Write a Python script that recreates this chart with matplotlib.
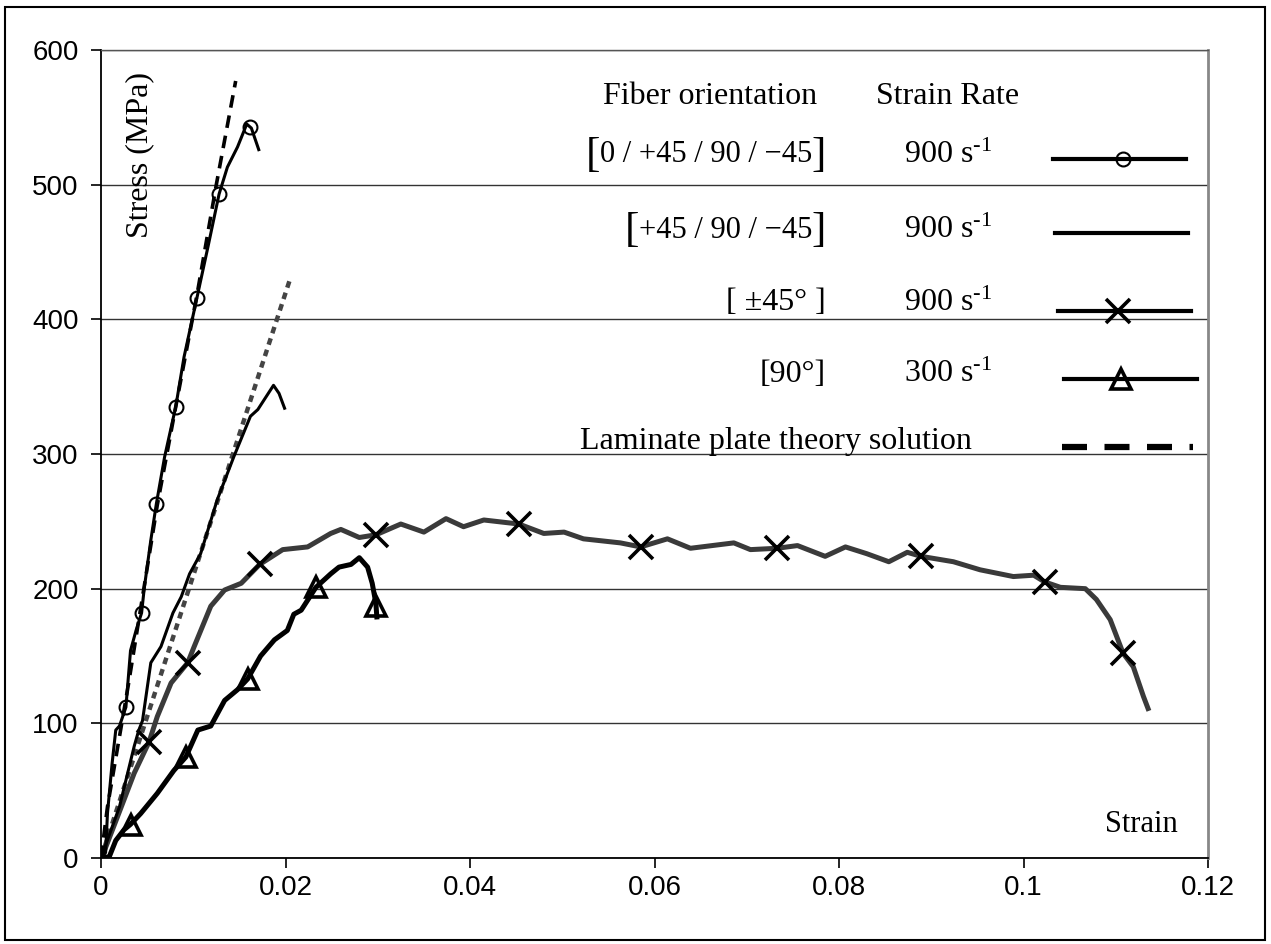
import matplotlib
matplotlib.use('Agg')
import matplotlib.pyplot as plt
import matplotlib.patches as patches
from matplotlib.lines import Line2D

plt.rcParams['mathtext.fontset'] = 'custom'
plt.rcParams['mathtext.rm'] = 'Liberation Serif'
plt.rcParams['mathtext.it'] = 'Liberation Serif:italic'
plt.rcParams['mathtext.bf'] = 'Liberation Serif:bold'

# [0/+45/90/-45] 900 1/s  (black, circles)
x1 = [0, 0.0005, 0.0007, 0.0012, 0.0016, 0.0020, 0.0027, 0.0032, 0.0038, 0.0044,
      0.0047, 0.0054, 0.0060, 0.0069, 0.0081, 0.0090, 0.0104, 0.0116, 0.0128,
      0.0137, 0.0148, 0.0158, 0.0163, 0.0171]
y1 = [0, 4, 33, 70, 95, 98, 112, 154, 169, 182,
      201, 236, 263, 298, 335, 372, 416, 454, 493,
      513, 528, 545, 542, 526]
x1m = [0.0027, 0.0044, 0.0060, 0.0081, 0.0104, 0.0128, 0.0162]
y1m = [112, 182, 263, 335, 416, 493, 543]

# [+45/90/-45] 900 1/s  (black, no marker)
x2 = [0, 0.0020, 0.0036, 0.0041, 0.0045, 0.0054, 0.0065, 0.0078, 0.0087, 0.0096,
      0.0108, 0.0126, 0.0144, 0.0162, 0.0170, 0.0187, 0.0193, 0.0199]
y2 = [0, 38, 83, 95, 102, 145, 157, 182, 194, 211,
      226, 266, 298, 328, 333, 351, 345, 334]

# [+-45] 900 1/s  (gray, crosses)
x3 = [0, 0.0004, 0.0022, 0.0036, 0.0052, 0.0061, 0.0076, 0.0094, 0.0101, 0.0119,
      0.0134, 0.0152, 0.0172, 0.0197, 0.0224, 0.0249, 0.0260, 0.0280, 0.0298,
      0.0325, 0.0350, 0.0374, 0.0393, 0.0415, 0.0453, 0.0480, 0.0502, 0.0523,
      0.0563, 0.0585, 0.0614, 0.0639, 0.0686, 0.0704, 0.0733, 0.0755, 0.0785,
      0.0807, 0.0830, 0.0854, 0.0874, 0.0889, 0.0924, 0.0953, 0.0989, 0.1011,
      0.1023, 0.1040, 0.1067, 0.1079, 0.1094, 0.1108, 0.1119, 0.1130, 0.1135]
y3 = [0, 6, 38, 63, 86, 105, 130, 145, 157, 187,
      199, 204, 218, 229, 231, 241, 244, 238, 240,
      248, 242, 252, 246, 251, 248, 241, 242, 237,
      234, 231, 237, 230, 234, 229, 230, 232, 224,
      231, 226, 220, 227, 224, 220, 214, 209, 210,
      205, 201, 200, 192, 177, 152, 142, 120, 111]
x3m = [0.0052, 0.0094, 0.0172, 0.0298, 0.0453, 0.0585, 0.0733, 0.0889, 0.1023, 0.1108]
y3m = [86, 145, 218, 240, 248, 231, 230, 224, 205, 152]

# [90] 300 1/s  (black, triangles)
x4 = [0, 0.0009, 0.0016, 0.0025, 0.0032, 0.0043, 0.0061, 0.0079, 0.0092, 0.0105,
      0.0119, 0.0134, 0.0148, 0.0159, 0.0173, 0.0188, 0.0202, 0.0209, 0.0217,
      0.0233, 0.0249, 0.0258, 0.0271, 0.0280, 0.0289, 0.0294, 0.0298, 0.0299]
y4 = [0, 1, 13, 21, 25, 33, 48, 65, 75, 95,
      98, 117, 125, 133, 150, 162, 169, 181, 184,
      201, 211, 216, 218, 223, 216, 204, 189, 179]
x4m = [0.0032, 0.0092, 0.0159, 0.0233, 0.0298]
y4m = [24.5, 75, 133, 201.5, 187]

# laminate plate theory
xl1 = [0, 0.0007, 0.0030, 0.0061, 0.0081, 0.0104, 0.0125, 0.0146]
yl1 = [0, 38, 130, 262, 335, 418, 500, 577]
xl2 = [0, 0.0205]
yl2 = [0, 430]

x_ticks = [0, 0.02, 0.04, 0.06, 0.08, 0.1, 0.12]
x_ticklabels = ['0', '0.02', '0.04', '0.06', '0.08', '0.1', '0.12']
y_ticks = [0, 100, 200, 300, 400, 500, 600]

# 大きい括弧で囲むラベル（数式エディタ風）と普通のラベル
orient_inner = ['0 / +45 / 90 / \u221245', '+45 / 90 / \u221245']
orient_plain = ['[ \u00b145\u00b0 ]', '[90\u00b0]']
rate_labels = ['900', '900', '900', '300']

fig = plt.figure(figsize=(12.71, 9.44), dpi=100)
ax = fig.add_axes([101/1271, 1-858/944, 1107/1271, 808/944])

# 外枠
fig.patches.append(patches.Rectangle((5/1271, 4/944), 1260/1271, 933/944,
                                     transform=fig.transFigure, fill=False,
                                     edgecolor='black', linewidth=1.5))

ax.set_xlim(0, 0.12)
ax.set_ylim(0, 600)
ax.set_xticks(x_ticks)
ax.set_xticklabels(x_ticklabels)
ax.set_yticks(y_ticks)
ax.tick_params(direction='out', length=7, width=1.2, labelsize=20)
ax.tick_params(axis='y', pad=9)
ax.tick_params(axis='x', pad=5)
for lab in ax.get_xticklabels() + ax.get_yticklabels():
    lab.set_fontfamily('Liberation Sans')
ax.grid(True, axis='y', color='#333333', linewidth=1.0)
ax.set_axisbelow(True)
ax.spines['left'].set_linewidth(1.3)
ax.spines['bottom'].set_linewidth(1.3)
ax.spines['top'].set_color('#555555')
ax.spines['top'].set_linewidth(1.0)
ax.spines['right'].set_color('#888888')
ax.spines['right'].set_linewidth(2.0)

lpt_dash = (3.5, 2.2)
dot_dash = (1.5, 1.2)

ax.plot(xl2, yl2, color='#444444', linewidth=3.2, dashes=dot_dash, zorder=2)
ax.plot(x3, y3, color='#3a3a3a', linewidth=3.6, zorder=3)
ax.plot(x4, y4, color='black', linewidth=3.6, zorder=4)
ax.plot(x2, y2, color='black', linewidth=2.2, zorder=4)
ax.plot(xl1, yl1, color='black', linewidth=2.6, dashes=lpt_dash, zorder=5)
ax.plot(x1, y1, color='black', linewidth=2.2, zorder=5)

ax.plot(x1m, y1m, linestyle='none', marker='o', markersize=10, markerfacecolor='none',
        markeredgecolor='black', markeredgewidth=1.5, zorder=6)
ax.plot(x3m, y3m, linestyle='none', marker='x', markersize=17, markeredgecolor='black',
        markeredgewidth=2.6, zorder=6)
ax.plot(x4m, y4m, linestyle='none', marker='^', markersize=14, markerfacecolor='none',
        markeredgecolor='black', markeredgewidth=2.6, zorder=6)

serif = 'Liberation Serif'


def ax_xy(px, py):
    return (px - 101) / 1107, (858 - py) / 808


tx, ty = ax_xy(140, 155)
ax.text(tx, ty, 'Stress (MPa)', transform=ax.transAxes, rotation=90,
        ha='center', va='center', fontsize=23, family=serif)
tx, ty = ax_xy(1141, 824)
ax.text(tx, ty, 'Strain', transform=ax.transAxes,
        ha='center', va='center', fontsize=22, family=serif)

# 凡例（表形式）
tx, ty = ax_xy(710, 96)
ax.text(tx, ty, 'Fiber orientation', transform=ax.transAxes, ha='center', va='center',
        fontsize=23, family=serif)
tx, ty = ax_xy(948, 96)
ax.text(tx, ty, 'Strain Rate', transform=ax.transAxes, ha='center', va='center',
        fontsize=23, family=serif)

row_y = [155, 230, 303, 374]
line_y = [159, 233, 311, 379]
line_x = [(1053, 1186), (1055, 1188), (1058, 1191), (1064, 1197)]
mk_x = [1123, None, 1118, 1121]
mk_style = [dict(marker='o', markersize=10, markerfacecolor='none', markeredgewidth=1.5),
            None,
            dict(marker='x', markersize=17, markeredgewidth=2.6),
            dict(marker='^', markersize=14, markerfacecolor='none', markeredgewidth=2.6)]

renderer = fig.canvas.get_renderer()
for i in range(4):
    if i < 2:
        # 右括弧 → 中身 → 左括弧 の順に幅を測って並べる
        tx, ty = ax_xy(826, row_y[i] + 1)
        rb = ax.text(tx, ty, ']', transform=ax.transAxes, ha='right', va='center',
                     fontsize=31, family=serif, fontweight='light')
        rb_w = rb.get_window_extent(renderer).width
        tx, ty = ax_xy(826 - rb_w + 1, row_y[i])
        inner = ax.text(tx, ty, orient_inner[i], transform=ax.transAxes, ha='right',
                        va='center', fontsize=22, family=serif)
        in_w = inner.get_window_extent(renderer).width
        tx, ty = ax_xy(826 - rb_w - in_w + 1, row_y[i] + 1)
        ax.text(tx, ty, '[', transform=ax.transAxes, ha='right', va='center',
                fontsize=31, family=serif)
    else:
        tx, ty = ax_xy(826, row_y[i])
        ax.text(tx, ty, orient_plain[i - 2], transform=ax.transAxes, ha='right',
                va='center', fontsize=23, family=serif)
    tx, ty = ax_xy(904, row_y[i])
    ax.text(tx, ty, rate_labels[i] + ' s$^{\\mathrm{\u2010}1}$', transform=ax.transAxes,
            ha='left', va='center', fontsize=23, family=serif)
    xa, ya = ax_xy(line_x[i][0], line_y[i])
    xb, _ = ax_xy(line_x[i][1], line_y[i])
    ax.add_line(Line2D([xa, xb], [ya, ya], color='black', linewidth=3.0,
                       transform=ax.transAxes, clip_on=False))
    if mk_x[i] is not None:
        xm, _ = ax_xy(mk_x[i], line_y[i])
        ax.add_line(Line2D([xm], [ya], linestyle='none', color='black',
                           markeredgecolor='black', transform=ax.transAxes,
                           clip_on=False, **mk_style[i]))

tx, ty = ax_xy(580, 442)
ax.text(tx, ty, 'Laminate plate theory solution', transform=ax.transAxes, ha='left',
        va='center', fontsize=23, family=serif)
xa, ya = ax_xy(1062, 447)
xb, _ = ax_xy(1193, 447)
ax.add_line(Line2D([xa, xb], [ya, ya], color='black', linewidth=4.5, dashes=(4, 2.8),
                   transform=ax.transAxes, clip_on=False))

fig.savefig('out.png', dpi=100)
